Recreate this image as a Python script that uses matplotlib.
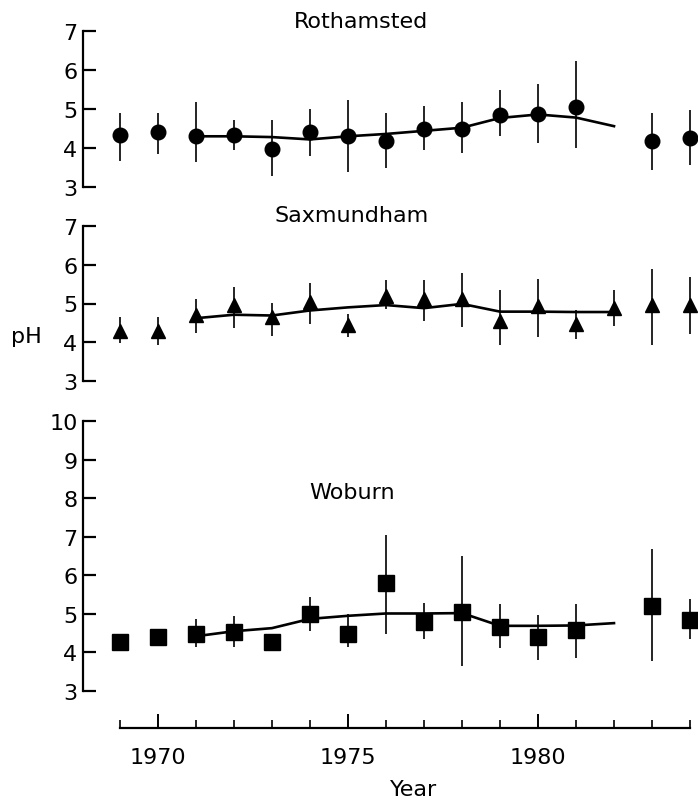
import numpy as np
import matplotlib
matplotlib.use("Agg")
import matplotlib.pyplot as plt
from matplotlib.ticker import FixedLocator

plt.rcParams['font.family'] = ['DejaVu Sans']

nan = np.nan
years = list(range(1969, 1985))
line_years = list(range(1971, 1983))

# Rothamsted (circles)
roth_ph = [4.33, 4.40, 4.32, 4.33, 3.97, 4.40, 4.30, 4.19, 4.49, 4.50, 4.85, 4.87, 5.05, nan, 4.18, 4.26]
roth_hi = [4.89, 4.91, 5.17, 4.73, 4.73, 5.00, 5.22, 4.91, 5.07, 5.17, 5.49, 5.64, 6.22, nan, 4.90, 4.98]
roth_lo = [3.67, 3.85, 3.65, 3.96, 3.29, 3.80, 3.39, 3.48, 3.94, 3.87, 4.32, 4.13, 4.00, nan, 3.44, 3.56]
roth_line = [4.30, 4.30, 4.28, 4.22, 4.30, 4.36, 4.44, 4.52, 4.77, 4.86, 4.78, 4.56]

# Saxmundham (triangles)
sax_ph = [4.30, 4.30, 4.71, 4.95, 4.65, 5.03, 4.45, 5.20, 5.12, 5.12, 4.56, 4.93, 4.47, 4.88, 4.96, 4.96]
sax_hi = [4.64, 4.64, 5.12, 5.42, 5.02, 5.52, 4.73, 5.61, 5.61, 5.79, 5.36, 5.62, 4.84, 5.36, 5.89, 5.68]
sax_lo = [3.98, 3.93, 4.24, 4.36, 4.17, 4.47, 4.13, 4.86, 4.56, 4.40, 3.93, 4.13, 4.09, 4.41, 3.93, 4.21]
sax_line = [4.62, 4.71, 4.69, 4.82, 4.90, 4.96, 4.88, 4.99, 4.79, 4.79, 4.78, 4.78]

# Woburn (squares)
wob_ph = [4.28, 4.39, 4.49, 4.52, 4.28, 5.00, 4.49, 5.79, 4.80, 5.05, 4.66, 4.39, 4.58, nan, 5.21, 4.85]
wob_hi = [4.28, 4.39, 4.87, 4.94, 4.28, 5.43, 5.00, 7.04, 5.28, 6.49, 5.25, 4.97, 5.25, nan, 6.68, 5.38]
wob_lo = [4.28, 4.39, 4.13, 4.13, 4.28, 4.56, 4.13, 4.48, 4.35, 3.66, 4.11, 3.80, 3.85, nan, 3.79, 4.35]
wob_line = [4.42, 4.55, 4.63, 4.87, 4.95, 5.01, 5.01, 5.02, 4.69, 4.69, 4.70, 4.76]

W, H = 698, 804
fig = plt.figure(figsize=(W / 100, H / 100), dpi=100)

x0 = 83
xl = (1968.03, 1984.21)
left = x0 / W
width = (W - x0) / W
fs = 16


def make_axes(top_px, bot_px):
    return fig.add_axes([left, 1 - bot_px / H, width, (bot_px - top_px) / H])


def style_y(ax, lo, hi):
    for s in ['top', 'right', 'bottom']:
        ax.spines[s].set_visible(False)
    ax.spines['left'].set_bounds(lo, hi)
    ax.spines['left'].set_linewidth(1.6)
    ax.set_yticks(range(lo, hi + 1))
    ax.tick_params(axis='y', direction='in', length=9, width=1.6, pad=4, labelsize=fs)
    ax.set_xlim(*xl)


def draw(ax, ph, lo, hi, line, marker, ms):
    ph = np.array(ph)
    err = [ph - np.array(lo), np.array(hi) - ph]
    ax.errorbar(years, ph, yerr=err, fmt='none', ecolor='black', elinewidth=1.2, capsize=0)
    ax.plot(line_years, line, color='black', lw=1.9)
    ax.plot(years, ph, linestyle='none', marker=marker, ms=ms, color='black', mec='black')


ax1 = make_axes(32, 188)
ax1.set_ylim(3, 7)
style_y(ax1, 3, 7)
ax1.set_xticks([])
draw(ax1, roth_ph, roth_lo, roth_hi, roth_line, 'o', 10.5)

ax2 = make_axes(227, 382)
ax2.set_ylim(3, 7)
style_y(ax2, 3, 7)
ax2.set_xticks([])
draw(ax2, sax_ph, sax_lo, sax_hi, sax_line, '^', 10)

ax3 = make_axes(422, 729)
ax3.set_ylim(3 - 37 / 38.6, 10)
style_y(ax3, 3, 10)
ax3.spines['bottom'].set_visible(True)
ax3.spines['bottom'].set_bounds(1969, 1984)
ax3.spines['bottom'].set_linewidth(1.6)
ax3.xaxis.set_major_locator(FixedLocator([1970, 1975, 1980]))
ax3.xaxis.set_minor_locator(FixedLocator(years))
ax3.tick_params(axis='x', which='major', direction='in', length=10, width=1.4, pad=14, labelsize=fs)
ax3.tick_params(axis='x', which='minor', direction='in', length=5.5, width=1.2)
draw(ax3, wob_ph, wob_lo, wob_hi, wob_line, 's', 12)

fig.text(361 / W, 1 - 22 / H, 'Rothamsted', ha='center', va='center', fontsize=fs)
fig.text(352 / W, 1 - 216 / H, 'Saxmundham', ha='center', va='center', fontsize=fs)
fig.text(352 / W, 1 - 493 / H, 'Woburn', ha='center', va='center', fontsize=fs)
fig.text(26 / W, 1 - 337 / H, 'pH', ha='center', va='center', fontsize=fs)
fig.text(414 / W, 1 - 790 / H, 'Year', ha='center', va='center', fontsize=fs)

fig.savefig('out.png', dpi=100)
